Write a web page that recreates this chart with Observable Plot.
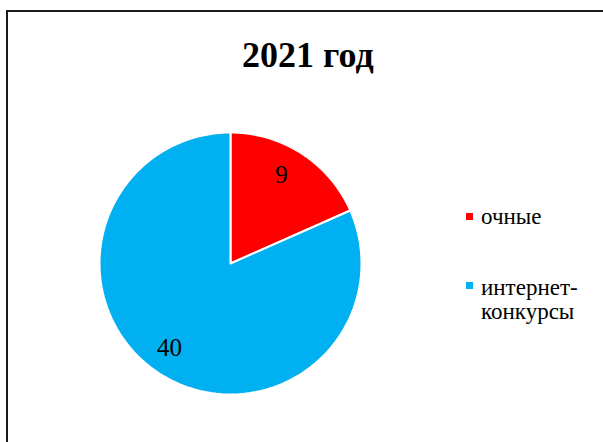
<!DOCTYPE html>
<html><head><meta charset="utf-8">
<script src="https://cdn.jsdelivr.net/npm/d3@7"></script>
<script src="https://cdn.jsdelivr.net/npm/@observablehq/plot@0.6"></script>
<style>
body{margin:0;background:#fff;}
#wrap{position:relative;width:603px;height:442px;overflow:hidden;font-family:"Liberation Serif",serif;color:#000;}
#border{position:absolute;left:6px;top:10px;width:700px;height:600px;border-left:2px solid #1a1a1a;border-top:2px solid #1a1a1a;}
#chart{position:absolute;left:0;top:0;}
#title{position:absolute;left:242px;top:36.5px;font-family:"Liberation Serif",serif;font-size:36px;line-height:36px;font-weight:bold;white-space:nowrap;}
.lg{position:absolute;font-family:"Liberation Serif",serif;font-size:23px;line-height:24px;white-space:nowrap;}
.sw{position:absolute;width:7px;height:7px;}
</style></head><body>
<div id="wrap"><div id="border"></div><div id="chart"></div><div id="title"></div><div id="legend"></div></div>
<script>
const title = "2021 год";
const categories = ["очные", "интернет-конкурсы"];
const legendLabels = [["очные"], ["интернет-", "конкурсы"]];
const values = [9, 40];
const colors = ["#FF0000", "#00B0F0"];

document.getElementById("title").textContent = title;

const arcs = d3.pie().sort(null)(values);
const pts = [];
arcs.forEach((a, i) => {
  const cat = categories[i];
  pts.push({x: 0, y: 0, cat});
  const n = 120;
  for (let k = 0; k <= n; k++) {
    const t = a.startAngle + (a.endAngle - a.startAngle) * k / n;
    pts.push({x: Math.sin(t), y: Math.cos(t), cat});
  }
  pts.push({x: 0, y: 0, cat});
});
const labels = arcs.map((a, i) => {
  const m = (a.startAngle + a.endAngle) / 2;
  return {x: 0.785 * Math.sin(m), y: 0.785 * Math.cos(m), text: String(values[i])};
});

const chart = Plot.plot({
  width: 603, height: 442,
  marginLeft: 99, marginRight: 242, marginTop: 132, marginBottom: 48,
  x: {domain: [-1, 1], axis: null},
  y: {domain: [-1, 1], axis: null},
  color: {domain: categories, range: colors},
  style: {background: "transparent", fontFamily: "'Liberation Serif', serif"},
  marks: [
    Plot.line(pts, {x: "x", y: "y", z: "cat", fill: "cat", stroke: "white", strokeWidth: 2, strokeLinejoin: "miter"}),
    Plot.text(labels, {x: "x", y: "y", text: "text", dx: -5, dy: -2, fontSize: 25, fontFamily: "Liberation Serif", fill: "black"})
  ]
});
document.getElementById("chart").appendChild(chart);

const legend = document.getElementById("legend");
const legendTops = [204.8, 275.8];
const swatchTops = [213, 282];
legendLabels.forEach((lines, i) => {
  const sw = document.createElement("div");
  sw.className = "sw";
  sw.style.left = "466px";
  sw.style.top = swatchTops[i] + "px";
  sw.style.background = colors[i];
  legend.appendChild(sw);
  lines.forEach((ln, j) => {
    const t = document.createElement("div");
    t.className = "lg";
    t.style.left = "481px";
    t.style.top = (legendTops[i] + 24 * j) + "px";
    t.textContent = ln;
    legend.appendChild(t);
  });
});
</script>
</body></html>
